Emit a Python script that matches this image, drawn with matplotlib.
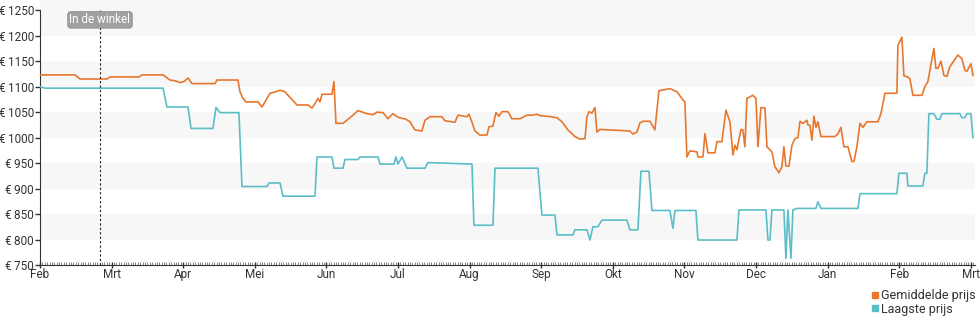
import matplotlib
matplotlib.use("Agg")
import matplotlib.pyplot as plt
from matplotlib.lines import Line2D
import numpy as np

plt.rcParams['font.family'] = ['Roboto', 'DejaVu Sans']

# x positions are in months since 1 Feb (month ticks are evenly spaced)
gem_t = [0, 0.489, 0.559, 0.936, 0.978, 1.383, 1.425, 1.718, 1.816, 1.899, 1.955, 2.011, 2.067, 2.123,
         2.444, 2.472, 2.765, 2.793, 2.835, 2.877, 3.045, 3.101, 3.142, 3.212, 3.296, 3.352, 3.422, 3.464,
         3.506, 3.589, 3.743, 3.799, 3.855, 3.883, 3.911, 3.939, 4.078, 4.106, 4.134, 4.232, 4.372, 4.441,
         4.567, 4.651, 4.707, 4.791, 4.860, 4.930, 5.000, 5.112, 5.168, 5.237, 5.335, 5.377, 5.447, 5.615,
         5.656, 5.796, 5.838, 5.964, 5.992, 6.034, 6.075, 6.145, 6.243, 6.271, 6.327, 6.369, 6.411, 6.453,
         6.536, 6.592, 6.704, 6.802, 6.885, 6.941, 6.983, 7.081, 7.221, 7.291, 7.374, 7.472, 7.542, 7.612,
         7.640, 7.668, 7.709, 7.751, 7.779, 7.821, 8.240, 8.282, 8.338, 8.380, 8.422, 8.520, 8.589, 8.645,
         8.757, 8.799, 8.897, 8.980, 9.008, 9.036, 9.078, 9.176, 9.190, 9.260, 9.288, 9.330, 9.427, 9.455,
         9.525, 9.581, 9.637, 9.679, 9.707, 9.735, 9.791, 9.818, 9.846, 9.874, 9.958, 10.000, 10.028, 10.070,
         10.126, 10.154, 10.223, 10.265, 10.321, 10.363, 10.391, 10.419, 10.461, 10.503, 10.545, 10.587,
         10.615, 10.656, 10.712, 10.726, 10.754, 10.782, 10.810, 10.838, 10.866, 10.908, 11.103, 11.145,
         11.187, 11.229, 11.285, 11.341, 11.369, 11.411, 11.453, 11.494, 11.550, 11.704, 11.746, 11.802,
         11.969, 11.983, 12.039, 12.067, 12.123, 12.151, 12.193, 12.318, 12.360, 12.402, 12.486, 12.514,
         12.542, 12.584, 12.626, 12.668, 12.709, 12.821, 12.877, 12.919, 12.947, 13.003, 13.031]
gem_prijs = [1123, 1123, 1115, 1115, 1119, 1119, 1123, 1123, 1113, 1111, 1108, 1110, 1117, 1106,
             1106, 1113, 1113, 1090, 1077, 1070, 1070, 1060, 1070, 1087, 1090, 1093, 1090, 1083,
             1077, 1064, 1064, 1058, 1070, 1077, 1070, 1085, 1085, 1110, 1028, 1028, 1044, 1053,
             1047, 1045, 1050, 1049, 1037, 1047, 1040, 1036, 1031, 1015, 1013, 1034, 1041, 1041,
             1033, 1030, 1044, 1041, 1046, 1030, 1013, 1005, 1005, 1021, 1023, 1049, 1042, 1051,
             1051, 1037, 1037, 1044, 1044, 1046, 1043, 1042, 1039, 1031, 1015, 1002, 997, 998,
             1041, 1051, 1048, 1059, 1011, 1016, 1013, 1007, 1011, 1029, 1032, 1032, 1015, 1092,
             1095, 1096, 1090, 1074, 1070, 962, 974, 972, 962, 962, 1008, 970, 970, 992,
             992, 1054, 1031, 966, 985, 976, 1016, 1015, 982, 1077, 1083, 1077, 982, 1059,
             1058, 982, 972, 943, 931, 943, 982, 944, 944, 985, 998, 1000,
             1032, 1028, 1034, 1025, 1024, 995, 1042, 1020, 1031, 1002, 1002, 1007,
             1020, 982, 982, 953, 953, 982, 1028, 1020, 1031, 1031, 1047, 1087,
             1087, 1181, 1197, 1121, 1119, 1115, 1083, 1083, 1100, 1110, 1175, 1136,
             1136, 1150, 1122, 1120, 1139, 1162, 1155, 1132, 1130, 1145, 1122]

laag_t = [0, 0.070, 1.718, 1.774, 2.067, 2.109, 2.416, 2.458, 2.514, 2.779, 2.821, 3.170, 3.198, 3.352,
          3.394, 3.841, 3.869, 4.078, 4.106, 4.232, 4.260, 4.441, 4.469, 4.721, 4.749, 4.944, 4.972, 5.000,
          5.056, 5.126, 5.377, 5.419, 5.628, 6.034, 6.061, 6.327, 6.355, 6.955, 7.011, 7.193, 7.221, 7.444,
          7.472, 7.640, 7.682, 7.723, 7.793, 7.849, 8.198, 8.240, 8.352, 8.394, 8.506, 8.547, 8.799, 8.841,
          8.869, 9.162, 9.190, 9.735, 9.763, 10.140, 10.168, 10.196, 10.223, 10.391, 10.419, 10.447, 10.489,
          10.517, 10.573, 10.838, 10.866, 10.908, 11.425, 11.453, 11.969, 11.997, 12.109, 12.123, 12.332,
          12.360, 12.388, 12.416, 12.486, 12.528, 12.570, 12.598, 12.849, 12.877, 12.919, 12.947, 13.003,
          13.031]
laag_prijs = [1100, 1097, 1097, 1060, 1060, 1018, 1018, 1059, 1049, 1049, 904, 904, 911, 911,
              885, 885, 962, 962, 940, 940, 957, 957, 962, 962, 948, 948, 962, 948,
              962, 940, 940, 951, 950, 948, 828, 828, 940, 940, 848, 848, 809, 809,
              819, 819, 799, 825, 825, 838, 838, 819, 819, 934, 934, 857, 857, 822,
              857, 857, 799, 799, 858, 858, 799, 799, 858, 858, 763, 858, 763,
              858, 861, 861, 874, 861, 861, 890, 890, 930, 930, 905, 905,
              930, 930, 1047, 1047, 1036, 1036, 1047, 1047, 1039, 1039, 1047, 1047,
              1000]

maanden = ['Feb', 'Mrt', 'Apr', 'Mei', 'Jun', 'Jul', 'Aug', 'Sep', 'Okt', 'Nov', 'Dec', 'Jan', 'Feb', 'Mrt']
prijs_ticks = list(range(750, 1251, 50))
winkel_t = 0.838

oranje = '#e8772e'
blauw = '#5bbec6'

fig = plt.figure(figsize=(9.8, 3.25), dpi=100)
ax = fig.add_axes([40 / 980, 1 - 265 / 325, 935 / 980, 265 / 325])

# alternating bands
for lo in range(800, 1250, 100):
    ax.axhspan(lo, lo + 50, color='#f7f7f7', lw=0, zorder=0)
ax.axhspan(1200, 1300, color='#f7f7f7', lw=0, zorder=0)

ax.plot(gem_t, gem_prijs, color=oranje, lw=1.2, zorder=3)
ax.plot(laag_t, laag_prijs, color=blauw, lw=1.2, zorder=3)

ax.set_xlim(0, 13.06)
ax.set_ylim(750, 1270)

ax.axvline(winkel_t, ymax=(1250 - 750) / 520, color='#222222', ls=(0, (2, 2)), lw=0.8, zorder=4)
ax.text(winkel_t, 1231, 'In de winkel', ha='center', va='center', fontsize=8.5, color='white', zorder=5,
        bbox=dict(boxstyle='round,pad=0.15,rounding_size=0.25', fc='#a0a0a0', ec='#888888', lw=0.5))

for s in ['top', 'right']:
    ax.spines[s].set_visible(False)
ax.spines['left'].set_bounds(750, 1250)
ax.spines['left'].set_color('#333333')
ax.spines['bottom'].set_color('#333333')

ax.set_yticks(prijs_ticks)
ax.set_yticklabels(['€\u2009%d' % p for p in prijs_ticks])
ax.set_xticks(np.arange(len(maanden)))
ax.set_xticklabels(maanden)
ax.set_xticks(np.arange(0, 13.06, 1 / 30), minor=True)
ax.tick_params(axis='y', length=3.6, width=1, colors='#333333', labelsize=8.5, pad=0.8)
ax.tick_params(axis='x', which='major', direction='inout', length=5, width=1, colors='#333333',
               labelsize=8.5, pad=0)
ax.tick_params(axis='x', which='minor', direction='in', length=2, width=0.5, colors='#555555')

handles = [Line2D([], [], ls='', marker='s', ms=5, color=oranje),
           Line2D([], [], ls='', marker='s', ms=5, color=blauw)]
fig.legend(handles, ['Gemiddelde prijs', 'Laagste prijs'], loc='upper left',
           bbox_to_anchor=(871 / 980, 1 - 289 / 325), frameon=False, fontsize=9,
           handlelength=0.6, handletextpad=0.2, labelspacing=0.05, borderpad=0, borderaxespad=0,
           labelcolor='#333333')

fig.savefig('out.png', dpi=100)
